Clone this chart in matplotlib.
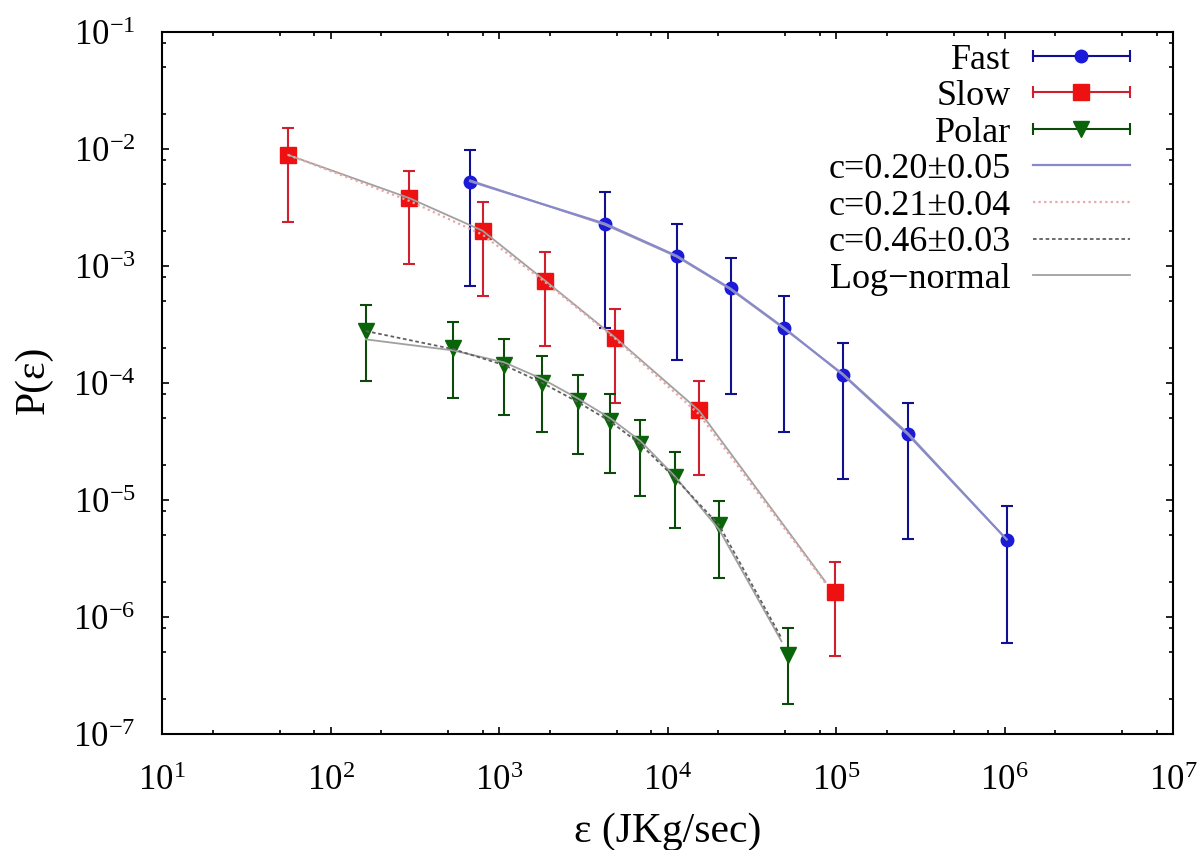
import numpy as np
import matplotlib.pyplot as plt
from matplotlib.lines import Line2D
from matplotlib.legend_handler import HandlerLine2D
from matplotlib.ticker import FixedLocator, NullFormatter

plt.rcParams['font.family'] = ['Liberation Serif', 'DejaVu Serif']
plt.rcParams['mathtext.fontset'] = 'custom'
plt.rcParams['mathtext.rm'] = 'Liberation Serif'
plt.rcParams['mathtext.it'] = 'Liberation Serif:italic'

# data
fast_x = [673, 4256, 11350, 23700, 49300, 109600, 268600, 1.03e6]
fast_y = [5.26e-3, 2.28e-3, 1.22e-3, 6.45e-4, 2.94e-4, 1.17e-4, 3.64e-5, 4.55e-6]
fast_hi = [9.9e-3, 4.3e-3, 2.28e-3, 1.16e-3, 5.5e-4, 2.18e-4, 6.8e-5, 8.8e-6]
fast_lo = [6.8e-4, 2.94e-4, 1.57e-4, 8.05e-5, 3.8e-5, 1.5e-5, 4.6e-6, 5.96e-7]

slow_x = [56, 294, 800, 1875, 4880, 15400, 98500]
slow_y = [8.9e-3, 3.79e-3, 1.99e-3, 7.45e-4, 2.44e-4, 5.88e-5, 1.64e-6]
slow_hi = [1.5e-2, 6.5e-3, 3.5e-3, 1.33e-3, 4.27e-4, 1.03e-4, 2.94e-6]
slow_lo = [2.39e-3, 1.03e-3, 5.5e-4, 2.08e-4, 6.8e-5, 1.64e-5, 4.67e-7]

polar_x = [162, 533, 1075, 1812, 2924, 4570, 6900, 11030, 20240, 51850]
polar_y = [2.78e-4, 1.98e-4, 1.43e-4, 1.0e-4, 6.95e-5, 4.73e-5, 3.01e-5, 1.57e-5, 6.11e-6, 4.73e-7]
polar_hi = [4.64e-4, 3.34e-4, 2.38e-4, 1.7e-4, 1.17e-4, 8.0e-5, 4.83e-5, 2.59e-5, 9.86e-6, 8.0e-7]
polar_lo = [1.04e-4, 7.48e-5, 5.3e-5, 3.78e-5, 2.47e-5, 1.69e-5, 1.08e-5, 5.73e-6, 2.17e-6, 1.79e-7]

# fitted curves
fit_fast_x = fast_x
fit_fast_c = [5.3e-3, 2.3e-3, 1.22e-3, 6.4e-4, 2.95e-4, 1.18e-4, 3.6e-5, 4.6e-6]
fit_fast_ln = [5.4e-3, 2.25e-3, 1.2e-3, 6.3e-4, 2.9e-4, 1.2e-4, 3.7e-5, 4.6e-6]

fit_slow_x = [56, 294, 800, 1875, 4880, 15400, 86500]
fit_slow_c = [8.9e-3, 3.6e-3, 1.85e-3, 7.3e-4, 2.4e-4, 5.4e-5, 1.95e-6]
fit_slow_ln = [8.9e-3, 3.8e-3, 2.0e-3, 7.5e-4, 2.45e-4, 5.8e-5, 2.0e-6]

fit_polar_x = [162, 533, 1075, 1812, 2924, 4570, 6900, 11030, 20240, 47500]
fit_polar_c = [2.78e-4, 1.95e-4, 1.42e-4, 1.0e-4, 6.9e-5, 4.7e-5, 3.0e-5, 1.55e-5, 6.1e-6, 6.6e-7]
fit_polar_ln = [2.36e-4, 1.9e-4, 1.5e-4, 1.08e-4, 7.4e-5, 5.0e-5, 3.2e-5, 1.6e-5, 5.6e-6, 6.2e-7]

x_decades = [1, 2, 3, 4, 5, 6, 7]
y_decades = [-7, -6, -5, -4, -3, -2, -1]

fig = plt.figure(figsize=(11.98, 8.5), dpi=100)
ax = fig.add_axes([162 / 1198, 1 - 734 / 850, 1011 / 1198, 702 / 850])


def errbar(x, y, lo, hi, ecol, mcol, marker, ms):
    y = np.array(y)
    yerr = [y - np.array(lo), np.array(hi) - y]
    ax.errorbar(x, y, yerr=yerr, fmt=marker, color=mcol, ecolor=ecol, ms=ms,
                elinewidth=1.5, capsize=4, capthick=1.5, zorder=2)


errbar(fast_x, fast_y, fast_lo, fast_hi, '#101090', '#1a1ad8', 'o', 9)
errbar(slow_x, slow_y, slow_lo, slow_hi, '#d02030', '#ee1111', 's', 11)
errbar(polar_x, polar_y, polar_lo, polar_hi, '#0b4a0b', '#0a640a', 'v', 12)

c_blue = '#8888cc'
c_pink = '#e8a8a8'
c_dash = '#606060'
c_grey = '#a0a0a0'
ax.plot(fit_fast_x, fit_fast_ln, color=c_grey, lw=1.3, zorder=3)
ax.plot(fit_fast_x, fit_fast_c, color=c_blue, lw=1.6, zorder=3)
ax.plot(fit_slow_x, fit_slow_ln, color=c_grey, lw=1.3, zorder=3)
ax.plot(fit_slow_x, fit_slow_c, color=c_pink, lw=1.6, ls=(0, (1, 1.5)), zorder=3)
ax.plot(fit_polar_x, fit_polar_ln, color=c_grey, lw=1.3, zorder=3)
ax.plot(fit_polar_x, fit_polar_c, color=c_dash, lw=1.3, ls=(0, (2, 1.5)), zorder=3)

ax.set_xscale('log')
ax.set_yscale('log')
ax.set_xlim(1e1, 1e7)
ax.set_ylim(1e-7, 1e-1)

# ticks only inside the range: decades plus minor ticks at 2, 5, 8
for axis, dec in ((ax.xaxis, x_decades), (ax.yaxis, y_decades)):
    axis.set_major_locator(FixedLocator([10.0 ** d for d in dec]))
    axis.set_minor_locator(FixedLocator([m * 10.0 ** d for d in dec[:-1]
                                         for m in (2, 5, 8)]))
    axis.set_minor_formatter(NullFormatter())
ax.tick_params(which='both', direction='in', top=True, right=True, width=1.2)
ax.tick_params(which='major', length=5, labelsize=25)
ax.tick_params(which='minor', length=3)
ax.tick_params(axis='x', which='major', pad=22)
ax.tick_params(axis='y', which='major', pad=19)
for s in ax.spines.values():
    s.set_linewidth(1.5)

ax.set_xlabel('ε (JKg/sec)', fontsize=30)
ax.set_ylabel('P(ε)', fontsize=30)
ax.xaxis.label.set_va('center')
ax.yaxis.label.set_va('center')
ax.xaxis.set_label_coords(0.5, -0.139)
ax.yaxis.set_label_coords(-0.127, 0.504)

# legend with gnuplot-like errorbar keys
handles = []
hmap = {}
for ecol, mcol, mk, ms in [('#101090', '#1a1ad8', 'o', 9),
                            ('#d02030', '#ee1111', 's', 11),
                            ('#0b4a0b', '#0a640a', 'v', 12)]:
    cap = Line2D([], [], color=ecol, lw=1.5, marker='|', ms=9, mew=1.5)
    mark = Line2D([], [], ls='none', marker=mk, color=mcol, ms=ms)
    hmap[cap] = HandlerLine2D(numpoints=2, marker_pad=0)
    hmap[mark] = HandlerLine2D(numpoints=1)
    handles.append((cap, mark))
handles += [Line2D([], [], color=c_blue, lw=1.6),
            Line2D([], [], color=c_pink, lw=1.6, ls=(0, (1, 1.5))),
            Line2D([], [], color=c_dash, lw=1.3, ls=(0, (2, 1.5))),
            Line2D([], [], color=c_grey, lw=1.3)]
labels = ['Fast', 'Slow', 'Polar', 'c=0.20±0.05', 'c=0.21±0.04',
          'c=0.46±0.03', 'Log−normal']
ax.legend(handles, labels, handler_map=hmap, loc='upper right',
          bbox_to_anchor=(0.9575, 0.984), frameon=False, fontsize=26,
          markerfirst=False, handlelength=2.7, handletextpad=0.6,
          labelspacing=0.09, borderpad=0, borderaxespad=0)

fig.savefig('out.png', dpi=100)
